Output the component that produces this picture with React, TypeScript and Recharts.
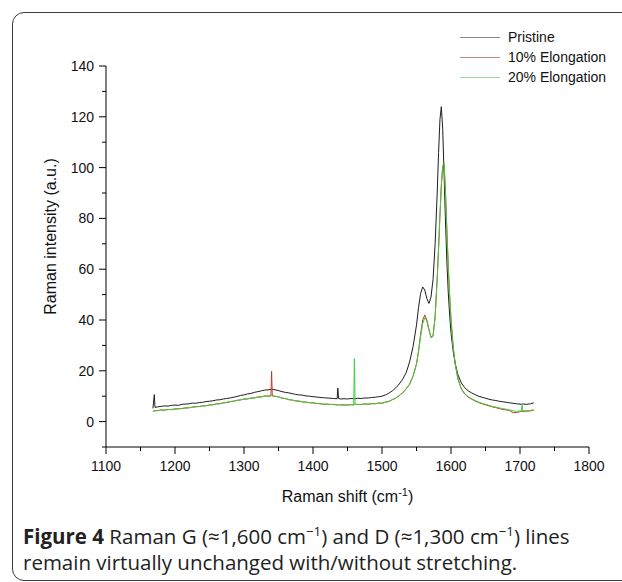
import React from "react";
import { LineChart, Line, XAxis, YAxis, Legend, Label } from "recharts";

// Raman shift (cm-1) sample positions
const shift = [
    1168, 1170, 1171, 1175,
    1180, 1185, 1190, 1195, 1200, 1205, 1210, 1215, 1220, 1225, 1230, 1235,
    1240, 1245, 1250, 1255, 1260, 1265, 1270, 1275, 1280, 1285, 1290, 1295,
    1300, 1305, 1310, 1315, 1320, 1325, 1330, 1335,
    1339, 1340, 1341, 1345, 1350, 1355,
    1360, 1365, 1370, 1375, 1380, 1385, 1390, 1395, 1400, 1405, 1410, 1415, 1420, 1425, 1430,
    1435, 1436, 1437, 1440, 1445, 1450, 1455,
    1459, 1460, 1461, 1465, 1470, 1475, 1480, 1485, 1490, 1495,
    1500, 1505, 1510, 1515, 1520, 1525, 1530, 1535, 1540, 1545, 1550,
    1553, 1556, 1559, 1562, 1565, 1568, 1571, 1574, 1577,
    1580, 1582, 1584, 1586, 1588, 1590, 1592, 1594, 1596, 1598, 1600,
    1603, 1606, 1610, 1615, 1620, 1625, 1630, 1635, 1640, 1645,
    1650, 1655, 1660, 1665, 1670, 1675, 1680, 1685, 1690, 1695,
    1700, 1702, 1703, 1704, 1710, 1715, 1720,
];

const pristine = [
    5.2, 10.6, 5.6, 5.8,
    6.0, 6.2, 6.1, 6.4, 6.5, 6.4, 6.8, 6.9, 7.0, 7.3, 7.2, 7.5,
    7.6, 7.9, 8.0, 8.2, 8.5, 8.6, 8.9, 9.1, 9.3, 9.6, 9.9, 10.3,
    10.5, 10.9, 11.1, 11.5, 11.8, 12.1, 12.4, 12.5,
    12.7, 12.4, 12.8, 12.5, 12.2, 11.8,
    11.5, 11.3, 11.0, 10.7, 10.5, 10.4, 10.1, 10.0, 9.8, 9.7, 9.5, 9.4, 9.3, 9.2, 9.1,
    9.0, 13.2, 9.1, 8.9, 9.0, 8.9, 9.1,
    9.0, 9.1, 9.0, 9.2, 9.1, 9.3, 9.3, 9.5, 9.6, 9.8,
    10.0, 10.5, 11.2, 12.1, 13.3, 14.8, 16.7, 19.2, 23.5, 29.5, 38.0,
    45.0, 50.5, 53.0, 51.8, 48.5, 46.5, 49.0, 56.0, 70.0,
    90.0, 106.0, 119.0, 124.0, 115.0, 97.0, 79.0, 63.0, 51.0, 42.0, 35.0,
    28.0, 23.0, 18.5, 15.2, 13.3, 12.1, 11.3, 10.6, 10.0, 9.6,
    9.2, 8.8, 8.5, 8.3, 8.0, 7.8, 7.6, 7.4, 7.2, 7.0,
    6.9, 6.8, 7.0, 6.9, 6.8, 7.0, 7.4,
];

const elong10 = [
    4.1, 4.2, 4.3, 4.3,
    4.6, 4.5, 4.8, 4.7, 5.0, 5.1, 5.1, 5.4, 5.4, 5.7, 5.9, 5.9,
    6.2, 6.2, 6.6, 6.6, 7.0, 7.0, 7.4, 7.5, 7.9, 8.0, 8.4, 8.5,
    8.9, 8.9, 9.3, 9.3, 9.7, 9.7, 10.1, 10.0,
    10.1, 19.8, 10.2, 9.9, 9.8, 9.2,
    9.1, 8.6, 8.5, 8.1, 8.1, 7.7, 7.7, 7.4, 7.4, 7.1, 7.1, 6.8, 6.9, 6.7, 6.8,
    6.5, 6.6, 6.7, 6.5, 6.6, 6.5, 6.7,
    6.6, 6.8, 6.7, 6.8, 6.7, 7.0, 6.8, 7.1, 7.0, 7.3,
    7.2, 7.7, 7.9, 8.7, 9.2, 10.3, 11.3, 12.9, 14.7, 17.9, 22.8,
    28.0, 34.5, 40.0, 42.0, 40.0, 36.5, 33.2, 33.8, 41.5,
    56.5, 68.5, 81.5, 93.0, 100.5, 101.5, 90.5, 75.5, 61.5, 50.0, 40.5,
    30.0, 22.8, 16.8, 12.8, 10.8, 9.6, 8.8, 8.1, 7.5, 7.0,
    6.6, 6.2, 5.8, 5.5, 5.1, 4.8, 4.6, 4.3, 3.5, 3.6,
    3.9, 4.0, 4.0, 3.9, 4.1, 4.2, 4.5,
];

const elong20 = [
    4.0, 4.3, 4.2, 4.4,
    4.5, 4.6, 4.7, 4.8, 4.9, 5.0, 5.2, 5.3, 5.5, 5.6, 5.8, 6.0,
    6.1, 6.3, 6.5, 6.7, 6.9, 7.1, 7.3, 7.6, 7.8, 8.1, 8.3, 8.6,
    8.8, 9.0, 9.2, 9.4, 9.6, 9.8, 10.0, 10.1,
    10.2, 10.3, 10.1, 10.0, 9.7, 9.3,
    9.0, 8.7, 8.4, 8.2, 8.0, 7.8, 7.6, 7.5, 7.3, 7.2, 7.0, 6.9, 6.8, 6.8, 6.7,
    6.6, 6.7, 6.6, 6.6, 6.5, 6.6, 6.6,
    6.7, 24.8, 6.8, 6.7, 6.8, 6.9, 6.9, 7.0, 7.1, 7.2,
    7.3, 7.6, 8.0, 8.6, 9.3, 10.2, 11.4, 12.8, 14.8, 17.8, 22.5,
    27.5, 33.5, 38.5, 41.0, 39.5, 36.0, 33.0, 33.5, 41.0,
    56.0, 68.0, 81.0, 93.0, 101.0, 101.5, 90.0, 75.0, 61.0, 49.5, 40.0,
    30.0, 23.0, 17.0, 13.0, 11.0, 9.8, 9.0, 8.3, 7.7, 7.2,
    6.8, 6.4, 6.0, 5.7, 5.4, 5.1, 4.9, 4.6, 4.3, 4.0,
    4.2, 4.1, 6.4, 4.2, 4.3, 4.4, 4.7,
];

const xTicks = [1100, 1150, 1200, 1250, 1300, 1350, 1400, 1450, 1500, 1550, 1600, 1650, 1700, 1750, 1800];
const yTicks = [-10, 0, 10, 20, 30, 40, 50, 60, 70, 80, 90, 100, 110, 120, 130, 140];

const seriesNames = ["Pristine", "10% Elongation", "20% Elongation"];
const legendColors = ["#8a8a8a", "#b98a80", "#96dc96"];

const data = shift.map((s, i) => ({
    shift: s,
    p: pristine[i],
    r: elong10[i],
    g: elong20[i],
}));

const FONT = "'Liberation Sans', Arial, sans-serif";

const XTick = (props: any) => {
    const { x, y, payload } = props;
    const major = payload.value % 100 === 0;
    return (
        <g>
            <line x1={x} x2={x} y1={y} y2={y + (major ? 7 : 4)} stroke="#000" strokeWidth={1} />
            {major && (
                <text x={x} y={y + 24} textAnchor="middle" fontSize={14} fill="#111" fontFamily={FONT}>
                    {payload.value}
                </text>
            )}
        </g>
    );
};

const YTick = (props: any) => {
    const { x, y, payload } = props;
    const major = payload.value >= 0 && payload.value % 20 === 0;
    return (
        <g>
            <line x1={x} x2={x - (major ? 7 : 4)} y1={y} y2={y} stroke="#000" strokeWidth={1} />
            {major && (
                <text x={x - 12} y={y + 5} textAnchor="end" fontSize={14} fill="#111" fontFamily={FONT}>
                    {payload.value}
                </text>
            )}
        </g>
    );
};

const XTitle = (props: any) => {
    const { viewBox } = props;
    const cx = viewBox.x + viewBox.width / 2;
    return (
        <text x={cx} y={viewBox.y + 55} textAnchor="middle" fontSize={16} fill="#111" fontFamily={FONT}>
            Raman shift (cm
            <tspan fontSize={11} dy={-6}>-1</tspan>
            <tspan dy={6}>)</tspan>
        </text>
    );
};

const YTitle = (props: any) => {
    const { viewBox } = props;
    const cx = viewBox.x + viewBox.width - 50;
    const cy = viewBox.y + viewBox.height / 2 - 20;
    return (
        <text
            x={cx}
            y={cy}
            transform={`rotate(-90, ${cx}, ${cy})`}
            textAnchor="middle"
            fontSize={16}
            fill="#111"
            fontFamily={FONT}
        >
            Raman intensity (a.u.)
        </text>
    );
};

// legend kept in series order, with the lighter sample colours of the original
const LegendBox = () => (
    <div style={{ fontFamily: FONT, fontSize: 14, color: "#111" }}>
        {seriesNames.map((name, i) => (
            <div key={name} style={{ display: "flex", alignItems: "center", height: 20 }}>
                <span
                    style={{
                        display: "inline-block",
                        width: 40,
                        height: 0,
                        borderTop: `1.5px solid ${legendColors[i]}`,
                        marginRight: 8,
                    }}
                />
                <span>{name}</span>
            </div>
        ))}
    </div>
);

export default function App() {
    return (
        <div style={{ position: "absolute", left: 0, top: 0, width: 622, height: 582, overflow: "hidden", background: "#fff" }}>
            <div
                style={{
                    position: "absolute",
                    left: 12,
                    top: 12,
                    width: 700,
                    height: 569,
                    border: "1.5px solid #3a3a3a",
                    borderRadius: 12,
                    boxSizing: "border-box",
                }}
            />
            <div style={{ position: "absolute", left: 0, top: 0 }}>
                <LineChart
                    width={622}
                    height={520}
                    data={data}
                    margin={{ top: 66, right: 33, left: 46, bottom: 43 }}
                    style={{ fontFamily: FONT }}
                >
                    <XAxis
                        dataKey="shift"
                        type="number"
                        domain={[1100, 1800]}
                        ticks={xTicks}
                        interval={0}
                        allowDataOverflow
                        tickSize={0}
                        tickMargin={0}
                        tickLine={false}
                        tick={<XTick />}
                        axisLine={{ stroke: "#000", strokeWidth: 1 }}
                        height={30}
                    >
                        <Label content={<XTitle />} />
                    </XAxis>
                    <YAxis
                        type="number"
                        domain={[-10, 140]}
                        ticks={yTicks}
                        interval={0}
                        allowDataOverflow
                        tickSize={0}
                        tickMargin={0}
                        tickLine={false}
                        tick={<YTick />}
                        axisLine={{ stroke: "#000", strokeWidth: 1 }}
                        width={60}
                    >
                        <Label content={<YTitle />} />
                    </YAxis>
                    <Legend
                        layout="vertical"
                        align="center"
                        verticalAlign="middle"
                        content={<LegendBox />}
                        wrapperStyle={{ top: 27, left: 460, width: 160, height: 60 }}
                    />
                    <Line
                        type="linear"
                        dataKey="p"
                        name={seriesNames[0]}
                        stroke="#1e1e1e"
                        strokeWidth={1}
                        dot={false}
                        isAnimationActive={false}
                    />
                    <Line
                        type="linear"
                        dataKey="r"
                        name={seriesNames[1]}
                        stroke="#c8382c"
                        strokeWidth={1}
                        dot={false}
                        isAnimationActive={false}
                    />
                    <Line
                        type="linear"
                        dataKey="g"
                        name={seriesNames[2]}
                        stroke="#3ccf3c"
                        strokeWidth={1}
                        dot={false}
                        isAnimationActive={false}
                    />
                </LineChart>
            </div>
            <div
                style={{
                    position: "absolute",
                    left: 23,
                    top: 523,
                    width: 595,
                    fontFamily: "'Open Sans', 'Noto Sans', sans-serif",
                    fontSize: 20.5,
                    lineHeight: "26px",
                    color: "#222",
                    whiteSpace: "nowrap",
                }}
            >
                <b>Figure 4</b> Raman G (≈1,600 cm<sup style={{ fontSize: "0.65em", lineHeight: 0 }}>−1</sup>) and D (≈1,300 cm
                <sup style={{ fontSize: "0.65em", lineHeight: 0 }}>−1</sup>) lines
                <br />
                remain virtually unchanged with/without stretching.
            </div>
        </div>
    );
}
